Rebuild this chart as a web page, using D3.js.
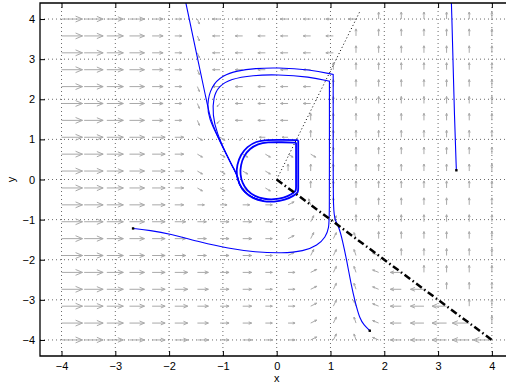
<!DOCTYPE html>
<html>
<head>
<meta charset="utf-8">
<script src="https://cdn.jsdelivr.net/npm/d3@7"></script>
<style>
body { margin: 0; background: #fff; }
text { font-family: "Liberation Sans", Arial, sans-serif; }
</style>
</head>
<body>
<svg id="chart" width="506" height="387"></svg>
<script>
// axis ticks
var xTicks = [-4, -3, -2, -1, 0, 1, 2, 3, 4];
var yTicks = [-4, -3, -2, -1, 0, 1, 2, 3, 4];

// quiver grid (20 x 20)
var gridX = [-4, -3.579, -3.158, -2.737, -2.316, -1.895, -1.474, -1.053, -0.632, -0.211,
             0.211, 0.632, 1.053, 1.474, 1.895, 2.316, 2.737, 3.158, 3.579, 4];
var gridY = gridX.slice().reverse();

// arrow codes -> [u, v] as drawn (data units)
var arrowCodes = {
    '9': [0.39, 0], '8': [0.353, 0], '7': [0.307, 0], '6': [0.279, 0], '5': [0.242, 0],
    '4': [0.204, 0], '3': [0.167, 0], '2': [0.13, 0], '1': [0.093, 0],
    'A': [-0.348, 0], 'B': [-0.316, 0], 'C': [-0.271, 0], 'D': [-0.251, 0], 'E': [-0.204, 0],
    'F': [-0.139, 0], 'G': [-0.112, 0],
    'u': [0, 0.175],
    'd': [0.093, -0.075], 'e': [0.037, -0.125],
    'q': [0.112, 0.075], 'p': [0.056, 0.15],
    'w': [-0.112, 0.062], 'v': [-0.037, 0.15],
    'z': [-0.056, -0.075]
};

// one string per row, top row (y = 4) first
var fieldRows = [
    "987642eFFFFFFFuuuuuu",
    "987642eFFFFFFuuuuuuu",
    "987642eFFFFFFuuuuuuu",
    "987642eFFFFFuuuuuuuu",
    "987642eFFFFFuuuuuuuu",
    "987642ezFFFFuuuuuuuu",
    "987642ezFFFuuuuuuuuu",
    "987653ddzGGuuuuuuuuu",
    "987653dddddduuuuuuuu",
    "987653dddduuuuuuuuuu",
    "987653ddddduuuuuuuuu",
    "9876532222qvuuuuuuuu",
    "9876543332qppuuuuuuu",
    "9876543332qppvuuuuuu",
    "9876543332qppvwuuuuu",
    "98765543322qpvwEuuuu",
    "98765543322qpvwEDuuu",
    "98765543322qpvwEDCuu",
    "98765543322qpvwEDCBu",
    "98765543322qpvwEDCBA"
];

// trajectories (repeated points keep a sharp corner)
var traj1X = [-1.72, -1.69, -1.50, -1.31, -1.24, -1.13, -0.92, -0.79, -0.72, -0.70, -0.60, -0.45, -0.25];
var traj1Y = [4.6, 4.41, 3.2, 2.0, 1.55, 1.16, 0.58, 0.25, 0.05, -0.12, -0.32, -0.46, -0.53];

var traj2X = [1.73, 1.62, 1.55, 1.46, 1.38, 1.30, 1.22, 1.16, 1.09, 1.05, 1.05, 1.05, 1.05, 1.05, 0.62, 0, -0.40, -0.74,
              -1.0, -1.22, -1.30, -1.25, -1.13, -0.92, -0.79, -0.72, -0.70, -0.60, -0.45, -0.25];
var traj2Y = [-3.77, -3.62, -3.49, -3.07, -2.6, -2.0, -1.5, -1.2, -1.02, -0.85, 0.8, 2.62, 2.62, 2.62, 2.74, 2.79, 2.77, 2.71,
              2.60, 2.33, 1.85, 1.50, 1.16, 0.58, 0.25, 0.05, -0.12, -0.32, -0.46, -0.53];

var traj3X = [-2.67, -2.35, -2.0, -1.42, -0.9, -0.4, 0.1, 0.5, 0.76, 0.91, 0.97, 0.98, 0.98, 0.98, 0.98, 0.98, 0.62, 0,
              -0.44, -0.86, -1.08, -1.18, -1.19, -1.12, -0.92, -0.79, -0.72, -0.70, -0.60, -0.45, -0.25];
var traj3Y = [-1.22, -1.27, -1.35, -1.56, -1.72, -1.81, -1.84, -1.79, -1.64, -1.44, -1.2, -0.95, 0.8, 2.45, 2.45, 2.45, 2.56, 2.62,
              2.60, 2.51, 2.32, 2.05, 1.6, 1.18, 0.58, 0.25, 0.05, -0.12, -0.32, -0.46, -0.53];

var traj4X = [3.34, 3.31, 3.25, 3.24];
var traj4Y = [0.23, 1.25, 4.41, 4.6];

// limit cycle (outer / inner edge of the bundle)
var cycleOuterX = [0.40, 0.40, 0.40, 0.40, 0.40, 0.32, 0.15, -0.05, -0.25, -0.45, -0.60, -0.70, -0.75, -0.74, -0.67, -0.55, -0.38, -0.2, 0.1, 0.40, 0.40, 0.40];
var cycleOuterY = [0.98, 0.98, 0.3, -0.30, -0.30, -0.41, -0.51, -0.56, -0.55, -0.47, -0.32, -0.11, 0.12, 0.36, 0.62, 0.82, 0.95, 0.99, 0.99, 0.98, 0.98, 0.98];
var cycleInnerX = [0.36, 0.36, 0.36, 0.36, 0.36, 0.28, 0.13, -0.05, -0.23, -0.41, -0.55, -0.64, -0.68, -0.67, -0.61, -0.50, -0.35, -0.18, 0.1, 0.36, 0.36, 0.36];
var cycleInnerY = [0.92, 0.92, 0.3, -0.27, -0.27, -0.37, -0.46, -0.50, -0.49, -0.42, -0.28, -0.09, 0.13, 0.36, 0.59, 0.77, 0.89, 0.93, 0.93, 0.92, 0.92, 0.92];

var startX = [-2.67, 1.73, 3.34];
var startY = [-1.22, -3.77, 0.23];

// switching lines
var dotLineX = [0, 1.55];
var dotLineY = [0, 4.2];
var dashLineX = [0, 4];
var dashLineY = [0, -4];

var svg = d3.select('#chart');
var xScale = d3.scaleLinear().domain([-4.4, 4.4]).range([40, 513.4]);
var yScale = d3.scaleLinear().domain([-4.4, 4.4]).range([356, 3]);
var fmt = function(d) { return d < 0 ? '\u2212' + Math.abs(d) : '' + d; };

svg.append('defs').append('clipPath').attr('id', 'plotclip')
    .append('rect').attr('x', 40).attr('y', 3).attr('width', 473.4).attr('height', 353);

var plot = svg.append('g').attr('clip-path', 'url(#plotclip)');

// grid
plot.selectAll('.gx').data(xTicks).enter().append('line')
    .attr('x1', function(d) { return xScale(d); }).attr('x2', function(d) { return xScale(d); })
    .attr('y1', yScale(4.4)).attr('y2', yScale(-4.4))
    .attr('stroke', '#444').attr('stroke-width', 0.8).attr('stroke-dasharray', '1,3');
plot.selectAll('.gy').data(yTicks).enter().append('line')
    .attr('y1', function(d) { return yScale(d); }).attr('y2', function(d) { return yScale(d); })
    .attr('x1', xScale(-4.4)).attr('x2', xScale(4.4))
    .attr('stroke', '#444').attr('stroke-width', 0.8).attr('stroke-dasharray', '1,3');

// quiver
var arrows = [];
fieldRows.forEach(function(row, j) {
    for (var i = 0; i < row.length; i++) {
        var uv = arrowCodes[row[i]];
        arrows.push({x: gridX[i], y: gridY[j], u: uv[0], v: uv[1]});
    }
});
var alpha = 0.33, beta = 0.42;
plot.append('g').selectAll('path').data(arrows).enter().append('path')
    .attr('fill', 'none').attr('stroke', '#a9a9a9').attr('stroke-width', 1)
    .attr('d', function(a) {
        var x1 = xScale(a.x), y1 = yScale(a.y);
        var x2 = xScale(a.x + a.u), y2 = yScale(a.y + a.v);
        var dx = x2 - x1, dy = y2 - y1;
        var h1x = x2 - alpha * (dx + beta * dy), h1y = y2 - alpha * (dy - beta * dx);
        var h2x = x2 - alpha * (dx - beta * dy), h2y = y2 - alpha * (dy + beta * dx);
        return 'M' + x1 + ',' + y1 + 'L' + x2 + ',' + y2 +
               'M' + h1x + ',' + h1y + 'L' + x2 + ',' + y2 + 'L' + h2x + ',' + h2y;
    });

// trajectories
var curve = d3.line()
    .x(function(d) { return xScale(d[0]); })
    .y(function(d) { return yScale(d[1]); })
    .curve(d3.curveBasis);
function zipXY(xs, ys) { return xs.map(function(x, i) { return [x, ys[i]]; }); }

[[cycleOuterX, cycleOuterY], [cycleInnerX, cycleInnerY]].forEach(function(c) {
    plot.append('path').datum(zipXY(c[0], c[1]))
        .attr('fill', 'none').attr('stroke', '#0000ff').attr('stroke-width', 1.8)
        .attr('d', curve);
});
[[traj1X, traj1Y], [traj2X, traj2Y], [traj3X, traj3Y], [traj4X, traj4Y]].forEach(function(t) {
    plot.append('path').datum(zipXY(t[0], t[1]))
        .attr('fill', 'none').attr('stroke', '#0000ff').attr('stroke-width', 1.1)
        .attr('d', curve);
});

// switching lines
var straight = d3.line().x(function(d) { return xScale(d[0]); }).y(function(d) { return yScale(d[1]); });
plot.append('path').datum(zipXY(dotLineX, dotLineY))
    .attr('fill', 'none').attr('stroke', '#000').attr('stroke-width', 1)
    .attr('stroke-dasharray', '1,2.5').attr('d', straight);
plot.append('path').datum(zipXY(dashLineX, dashLineY))
    .attr('fill', 'none').attr('stroke', '#000').attr('stroke-width', 2.5)
    .attr('stroke-dasharray', '7,3,1.5,3').attr('d', straight);

plot.selectAll('.start').data(zipXY(startX, startY)).enter().append('rect')
    .attr('x', function(d) { return xScale(d[0]) - 1.2; })
    .attr('y', function(d) { return yScale(d[1]) - 1.2; })
    .attr('width', 2.4).attr('height', 2.4).attr('fill', '#000');

// axes
var gB = svg.append('g').attr('transform', 'translate(0,356)')
    .call(d3.axisBottom(xScale).tickValues(xTicks).tickSize(-5).tickPadding(6).tickFormat(fmt));
var gT = svg.append('g').attr('transform', 'translate(0,3)')
    .call(d3.axisTop(xScale).tickValues(xTicks).tickSize(-5).tickFormat(''));
var gL = svg.append('g').attr('transform', 'translate(40,0)')
    .call(d3.axisLeft(yScale).tickValues(yTicks).tickSize(-5).tickPadding(5).tickFormat(fmt));
[gB, gT, gL].forEach(function(g) {
    g.select('.domain').remove();
    g.selectAll('line').attr('stroke', '#000');
    g.selectAll('text').attr('font-size', 11).attr('fill', '#000')
        .style('font-family', '"Liberation Sans", Arial, sans-serif');
});

svg.append('path').attr('fill', 'none').attr('stroke', '#000').attr('stroke-width', 1.3)
    .attr('d', 'M506,3H40V356H506');

svg.append('text').attr('x', xScale(0)).attr('y', 382).attr('text-anchor', 'middle')
    .attr('font-size', 11).text('x');
svg.append('text').attr('transform', 'translate(15,' + yScale(0) + ') rotate(-90)')
    .attr('text-anchor', 'middle').attr('font-size', 11).text('y');
</script>
</body>
</html>
